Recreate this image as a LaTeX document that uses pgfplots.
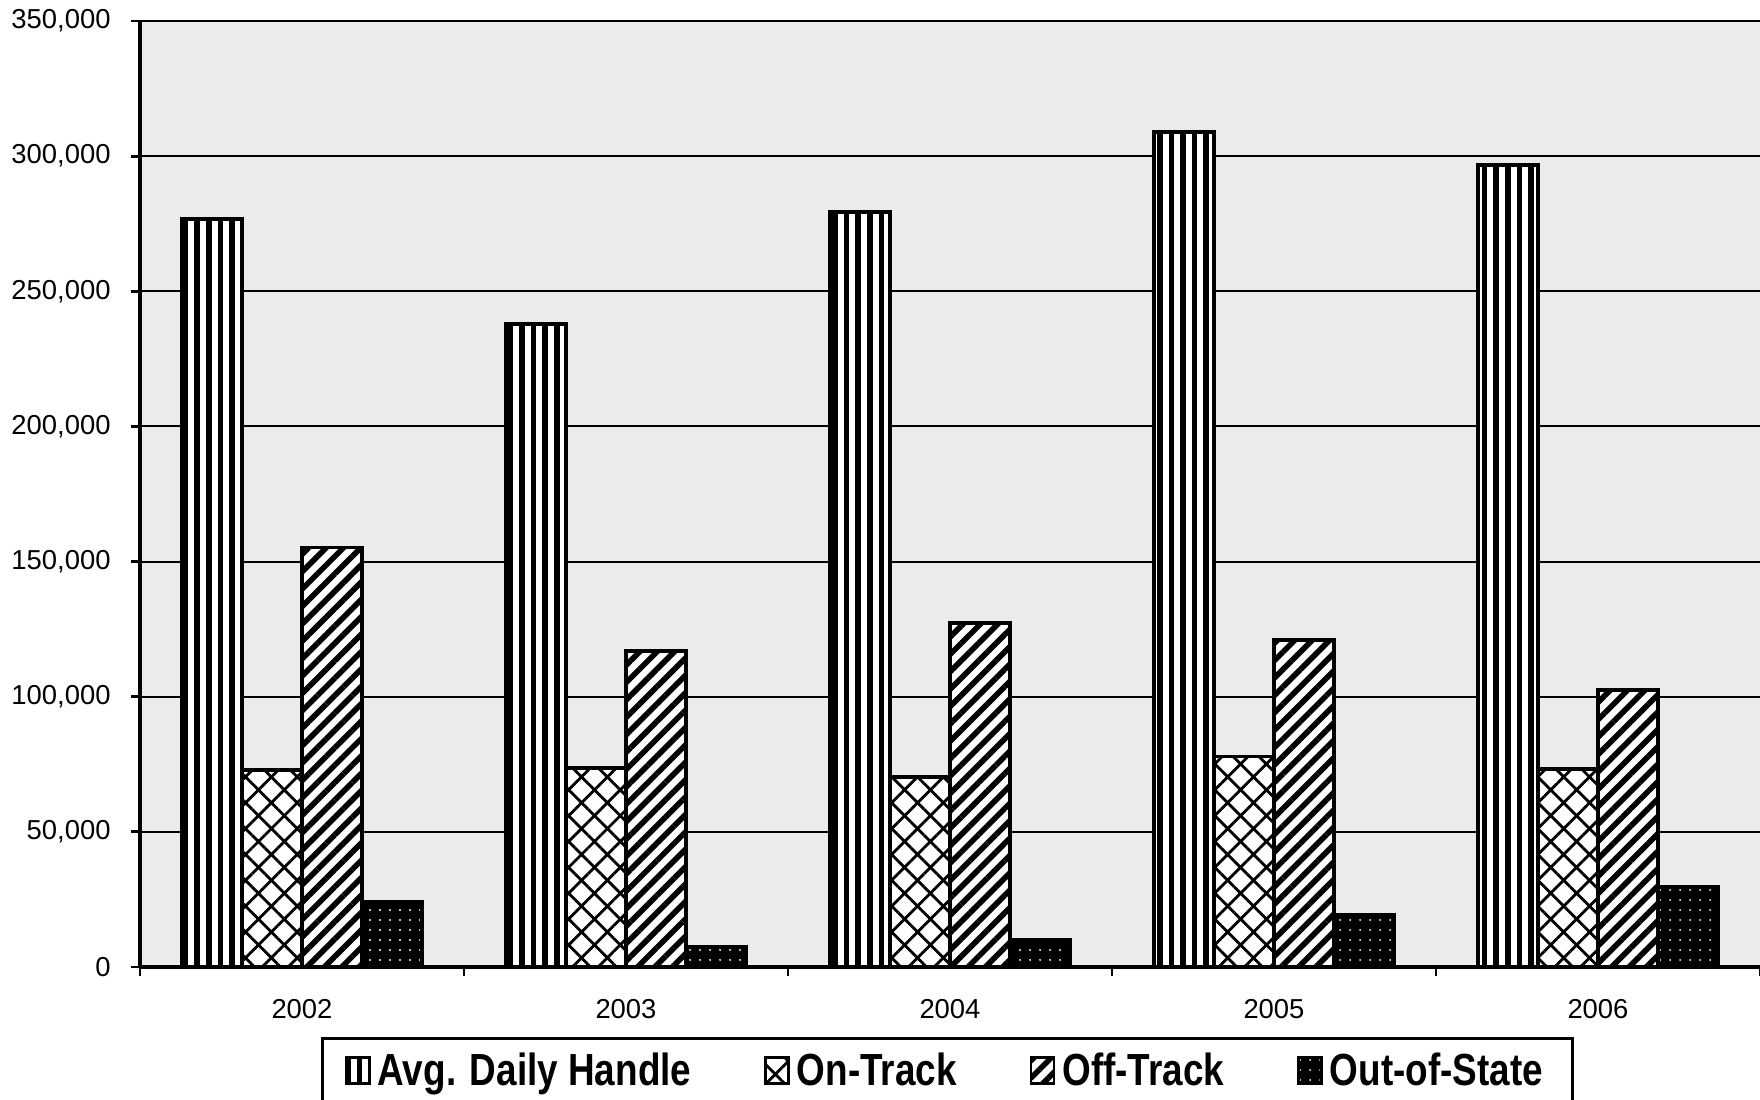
\documentclass[border=0pt]{standalone}
\usepackage{fontspec}
\setmainfont{Liberation Sans}
\newfontfamily\narrowfont[FakeStretch=0.82]{Liberation Sans}
\usepackage{pgfplots}
\pgfplotsset{compat=1.18}
\usetikzlibrary{patterns.meta}
\begin{document}
\begin{tikzpicture}
\begin{axis}[
  at={(1.40cm,1.33cm)}, anchor=south west,
  scale only axis, width=16.2cm, height=9.46cm,
  xmin=-0.5, xmax=4.5, ymin=0, ymax=350000,
  axis x line*=bottom, axis y line*=left,
  ybar, bar width=0.60cm,
  xtick={-0.5,0.5,1.5,2.5,3.5,4.5}, xticklabels={},
  extra x ticks={0,1,2,3,4},
  extra x tick labels={2002,2003,2004,2005,2006},
  extra x tick style={major tick length=0pt, xticklabel style={yshift=-0.2cm}},
  ytick={0,50000,...,350000},
  scaled y ticks=false,
  /pgf/number format/assume math mode=true,
  yticklabel style={/pgf/number format/fixed, /pgf/number format/1000 sep={,}, xshift=-0.08cm},
  ymajorgrids, grid style={black, line width=0.6pt},
  tick align=outside, major tick length=0.09cm,
  tick style={black, line width=0.8pt},
  axis line style={black, line width=0.9pt},
  tick label style={font=\fontsize{7.8}{9}\selectfont},
  axis background/.style={fill=black!8},
  legend style={at={(0.4985,-0.1105)}, anchor=center, legend columns=4,
    draw=black, line width=0.9pt, inner xsep=6.5pt, inner ysep=2pt,
    font=\narrowfont\bfseries\fontsize{12.8}{14}\selectfont,
    /tikz/every even column/.append style={column sep=0.66cm},
    nodes={inner xsep=2pt}},
  myleg/.style={legend image code/.code={\draw[##1, line width=0.7pt] (0cm,-0.12cm) rectangle (0.23cm,0.14cm);}},
]
\addplot[draw=black, line width=1.1pt, fill=white,
  postaction={pattern={Lines[angle=90,distance=3.3pt,line width=1.6pt]}},
  bar shift=-0.90cm, myleg]
  coordinates {(0,276900) (1,238000) (2,279400) (3,308800) (4,296600)};
\addplot[draw=black, line width=1.1pt, fill=white,
  postaction={pattern={Hatch[angle=45,distance=5.2pt,line width=0.8pt]}},
  bar shift=-0.30cm, myleg]
  coordinates {(0,73000) (1,73500) (2,70300) (3,77900) (4,73400)};
\addplot[draw=black, line width=1.1pt, fill=white,
  postaction={pattern={Lines[angle=45,distance=3.5pt,line width=1.6pt]}},
  bar shift=0.30cm, myleg]
  coordinates {(0,155200) (1,117000) (2,127300) (3,120900) (4,102500)};
\addplot[draw=black, line width=1.1pt, fill=black,
  postaction={pattern={Dots[distance=0.1cm,radius=0.3pt]}, pattern color=white},
  bar shift=0.90cm, myleg]
  coordinates {(0,23900) (1,7350) (2,10100) (3,19300) (4,29600)};
\legend{Avg. Daily Handle, On-Track, Off-Track, Out-of-State}
\end{axis}
\pgfresetboundingbox
\useasboundingbox (0,0) rectangle (17.6cm,11cm);
\end{tikzpicture}
\end{document}
